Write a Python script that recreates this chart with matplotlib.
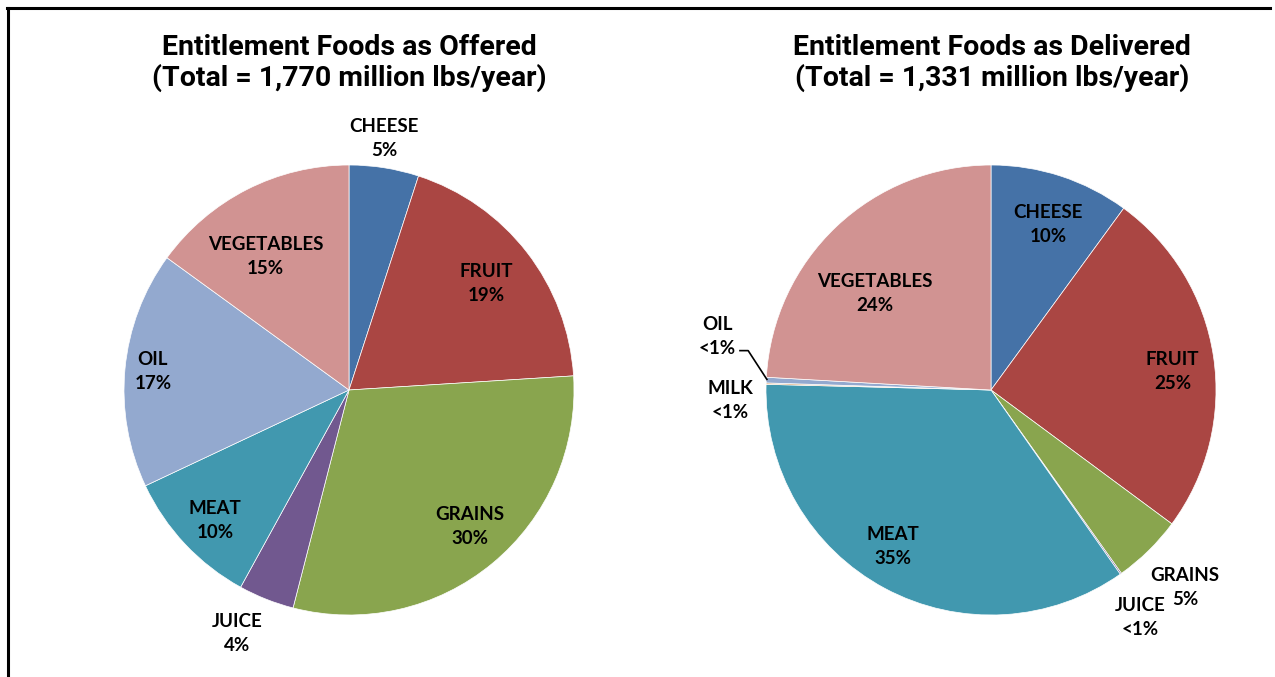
import numpy as np
import matplotlib
matplotlib.use("Agg")
import matplotlib.pyplot as plt
from matplotlib.lines import Line2D

# ---- data -------------------------------------------------------------
offered_labels = ["CHEESE", "FRUIT", "GRAINS", "JUICE", "MEAT", "OIL", "VEGETABLES"]
offered_values = [5, 19, 30, 4, 10, 17, 15]
offered_title = "Entitlement Foods as Offered\n(Total = 1,770 million lbs/year)"

delivered_labels = ["CHEESE", "FRUIT", "GRAINS", "JUICE", "MEAT", "MILK", "OIL", "VEGETABLES"]
delivered_values = [10, 25, 5, 0.1, 35, 0.1, 0.4, 24]
delivered_title = "Entitlement Foods as Delivered\n(Total = 1,331 million lbs/year)"

# ---- styling ----------------------------------------------------------
food_colors = {
    "CHEESE": "#4572A7",
    "FRUIT": "#AA4643",
    "GRAINS": "#89A54E",
    "JUICE": "#71588F",
    "MEAT": "#4198AF",
    "MILK": "#DB9A5C",
    "OIL": "#93A9CF",
    "VEGETABLES": "#D19392",
}

# label placement per slice: (radius factor, angular nudge in degrees)
offered_label_layout = [(1.13, -1), (0.77, 0), (0.81, -2), (1.19, 3), (0.83, -1), (0.875, 0), (0.70, -5)]
delivered_label_layout = [(0.78, 1), (0.81, 3), (1.23, 0), (1.21, 2), (0.82, 4), (1.16, -4), (1.24, 8.5), (0.67, -7)]

W, H, DPI = 1275, 677, 100
R_PX = 225          # pie radius in pixels
LIM = 1.5           # axes half-extent in pie-radius units

label_font = ["Lato", "DejaVu Sans"]
title_font = ["Roboto", "DejaVu Sans"]

fig = plt.figure(figsize=(W / DPI, H / DPI), dpi=DPI)
fig.patch.set_facecolor("white")


def pie_axes(cx, cy):
    half = R_PX * LIM
    ax = fig.add_axes([(cx - half) / W, 1 - (cy + half) / H, 2 * half / W, 2 * half / H])
    ax.patch.set_alpha(0)
    return ax


def fmt_pct(v):
    return "<1%" if v < 1 else f"{v:.0f}%"


def draw_pie(ax, labels, values, layout):
    colors = [food_colors[k] for k in labels]
    ax.pie(values, colors=colors, startangle=90, counterclock=False,
           radius=1.0, center=(0, 0),
           wedgeprops=dict(edgecolor="white", linewidth=0.5))
    # pie() resets the limits, so fix them afterwards to keep the pixel radius
    ax.set_xlim(-LIM, LIM)
    ax.set_ylim(-LIM, LIM)
    ax.set_aspect("equal")
    ax.axis("off")
    total = float(sum(values))
    positions = {}
    start = 0.0
    for lab, val, (rf, nudge) in zip(labels, values, layout):
        frac = val / total
        mid = (start + frac / 2) * 360.0
        th = np.deg2rad(mid + nudge)   # clockwise from 12 o'clock
        x, y = rf * np.sin(th), rf * np.cos(th)
        ax.text(x, y, f"{lab}\n{fmt_pct(val)}", ha="center", va="center",
                fontsize=13.5, fontweight="bold", family=label_font,
                linespacing=1.5, color="black")
        positions[lab] = (x, y, mid)
        start += frac
    return positions


# left pie
ax1 = pie_axes(349, 390)
draw_pie(ax1, offered_labels, offered_values, offered_label_layout)

# right pie
ax2 = pie_axes(991, 390)
pos = draw_pie(ax2, delivered_labels, delivered_values, delivered_label_layout)

# leader line from the OIL label to its thin slice
ox, oy, omid = pos["OIL"]
th = np.deg2rad(omid)
edge = (0.995 * np.sin(th), 0.995 * np.cos(th))
k = 1.0 / R_PX
p0 = (ox + 22 * k, oy - 14 * k)
p1 = (p0[0] + 9 * k, p0[1])
ax2.plot([p0[0], p1[0], edge[0]], [p0[1], p1[1], edge[1]], color="black", lw=1.2,
         solid_capstyle="butt")

# titles
fig.text(349 / W, 1 - 63 / H, offered_title, ha="center", va="center",
         fontsize=20.5, fontweight="bold", family=title_font, linespacing=1.12)
fig.text(992 / W, 1 - 63 / H, delivered_title, ha="center", va="center",
         fontsize=20.5, fontweight="bold", family=title_font, linespacing=1.12)

# frame lines along the top and left edges
fig.add_artist(Line2D([7.5 / W, 7.5 / W], [0, 1 - 7.5 / H], transform=fig.transFigure,
                      color="black", lw=2.2))
fig.add_artist(Line2D([6.5 / W, 1270 / W], [1 - 7.5 / H, 1 - 7.5 / H], transform=fig.transFigure,
                      color="black", lw=2.2))

fig.savefig("out.png", dpi=DPI, facecolor="white")
